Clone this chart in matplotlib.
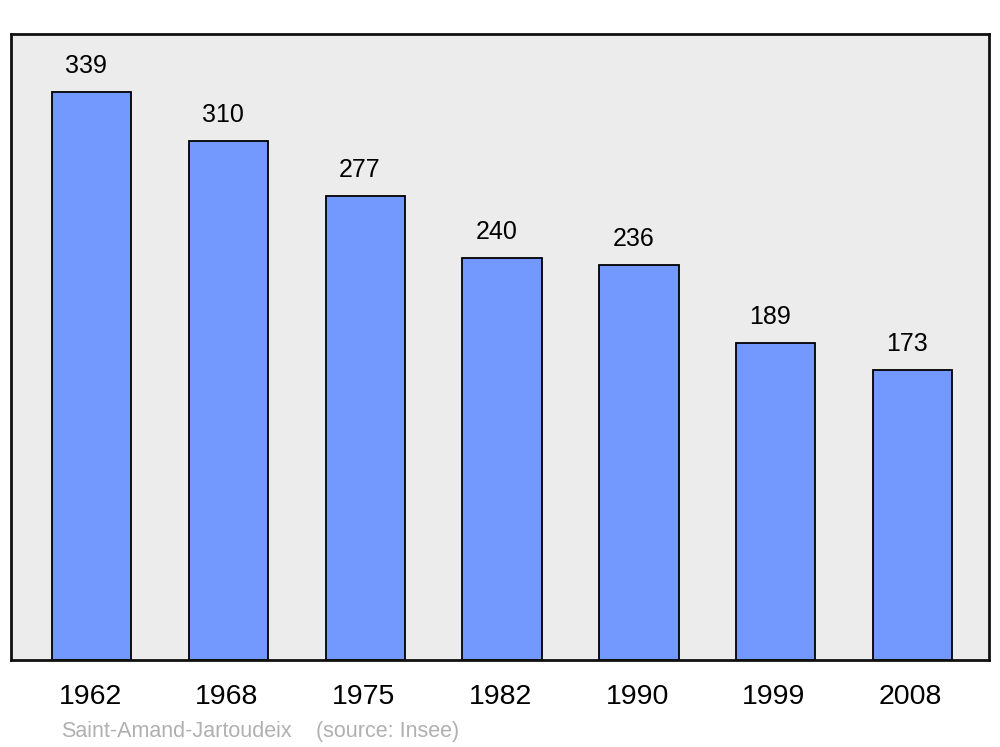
import matplotlib.pyplot as plt

years = ['1962', '1968', '1975', '1982', '1990', '1999', '2008']
population = [339, 310, 277, 240, 236, 189, 173]

plt.rcParams['font.family'] = ['Liberation Sans', 'DejaVu Sans']

fig = plt.figure(figsize=(10, 7.47), dpi=100)
ax = fig.add_axes([0.011, 87 / 747, 0.978, 626 / 747])
ax.set_facecolor('#ececec')

x = range(len(years))
bars = ax.bar(x, population, width=0.58, color='#7399ff', edgecolor='black', linewidth=1.3)

for xi, v in zip(x, population):
    ax.annotate(str(v), (xi, v), xytext=(-3.8, 10), textcoords='offset points',
                ha='center', va='bottom', fontsize=18)

ax.set_xlim(-0.59, 6.56)
ax.set_ylim(0, 373.6)
ax.set_yticks([])
ax.set_xticks([xi - 0.012 for xi in x])
ax.set_xticklabels(years, fontsize=20.5)
ax.tick_params(axis='x', length=0, pad=17.5)
for s in ax.spines.values():
    s.set_linewidth(2)
    s.set_color('#111111')

fig.text(61, 747 - 737, 'Saint-Amand-Jartoudeix', transform=None, color='#b0b0b0',
         fontsize=15.5, va='baseline', ha='left')
fig.text(316, 747 - 737, '(source: Insee)', transform=None, color='#b0b0b0',
         fontsize=15.5, va='baseline', ha='left')

fig.savefig('out.png', dpi=100)
